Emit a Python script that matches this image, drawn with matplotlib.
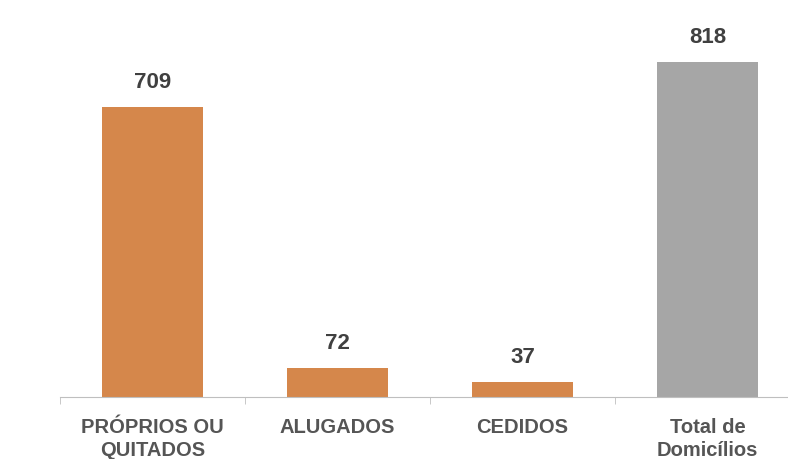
import matplotlib.pyplot as plt

plt.rcParams['font.family'] = ['Liberation Sans', 'DejaVu Sans']

categorias = ["PRÓPRIOS OU\nQUITADOS", "ALUGADOS", "CEDIDOS", "Total de\nDomicílios"]
valores = [709, 72, 37, 818]
cores = ["#D5874B", "#D5874B", "#D5874B", "#A6A6A6"]

fig = plt.figure(figsize=(7.88, 4.59), dpi=100)
ax = fig.add_axes([60 / 788, 62 / 459, 740 / 788, 397 / 459])

x = range(len(valores))
barras = ax.bar(x, valores, width=0.55, color=cores)

for b, v in zip(barras, valores):
    ax.annotate(str(v), (b.get_x() + b.get_width() / 2, v), xytext=(0, 10),
                textcoords="offset points", ha="center", va="bottom",
                fontsize=16, fontweight="bold", color="#404040")

ax.set_xlim(-0.5, 3.5)
ax.set_ylim(0, 969)
ax.set_yticks([])
ax.set_xticks(list(x))
ax.set_xticklabels(categorias, fontsize=14.5, fontweight="bold", color="#555555",
                   linespacing=1.25)
ax.tick_params(axis="x", which="major", length=0, pad=15)
ax.set_xticks([-0.5, 0.5, 1.5, 2.5, 3.5], minor=True)
ax.tick_params(axis="x", which="minor", length=5, color="#BFBFBF")

for s in ["top", "right", "left"]:
    ax.spines[s].set_visible(False)
ax.spines["bottom"].set_color("#BFBFBF")

fig.savefig("out.png", dpi=100)
